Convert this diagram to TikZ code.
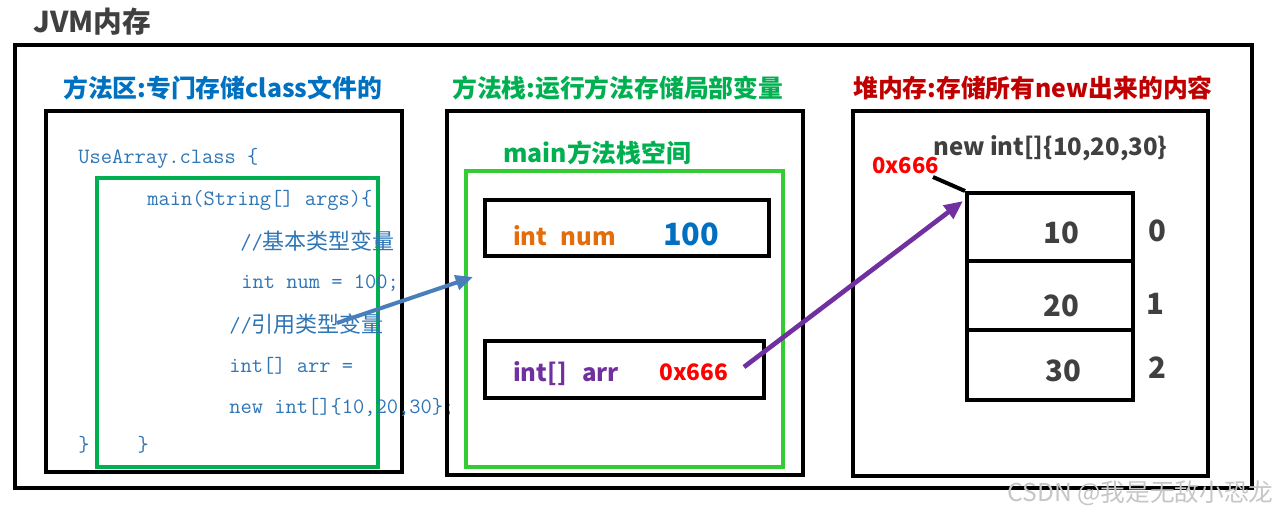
\documentclass[tikz,border=0pt]{standalone}
\usepackage{fontspec}
\setmainfont{Noto Sans CJK SC}
\newfontfamily\codecjk{Noto Sans CJK SC}
\usetikzlibrary{arrows.meta,fit}
\definecolor{titlegray}{HTML}{404040}
\definecolor{secblue}{HTML}{0070C0}
\definecolor{secgreen}{HTML}{00B050}
\definecolor{brightgreen}{HTML}{33CC33}
\definecolor{secred}{HTML}{C00000}
\definecolor{codeblue}{HTML}{2E75B6}
\definecolor{orangetxt}{HTML}{E46C0A}
\definecolor{purpletxt}{HTML}{7030A0}
\definecolor{redtxt}{HTML}{FF0000}
\definecolor{arrowblue}{HTML}{4A7EBB}
\newcommand{\cz}[1]{{\codecjk\fontsize{16.5pt}{18pt}\selectfont #1}}
\begin{document}
\begin{tikzpicture}[x=0.75pt,y=-0.75pt,
  blackbox/.style={draw=black,line width=3pt,inner sep=0pt},
  greenbox/.style={line width=2.4pt,inner sep=0pt},
  sectitle/.style={anchor=west,inner sep=0pt,font=\fontsize{18.6pt}{22pt}\selectfont\bfseries},
  codeline/.style={anchor=west,inner sep=0pt,text=codeblue,font=\ttfamily\fontsize{16.4pt}{19pt}\selectfont},
  cellnum/.style={inner sep=0pt,text=titlegray,font=\fontsize{22pt}{26pt}\selectfont\bfseries},
  vartxt/.style={anchor=west,inner sep=0pt,font=\fontsize{18pt}{22pt}\selectfont\bfseries}
]
\useasboundingbox (0,0) rectangle (1275,517);

% title
\node[anchor=west,inner sep=0pt,text=titlegray,font=\fontsize{21.5pt}{25pt}\selectfont\bfseries] (jvm) at (33,22) {JVM内存};

% outer box
\node[blackbox,fit={(15,45)(1252,488)}] (outer) {};

% left region
\node[sectitle,text=secblue] (lt) at (63,88) {方法区:专门存储class文件的};
\node[blackbox,fit={(46,111)(402,472)}] (left) {};
\node[greenbox,draw=secgreen,fit={(97,178)(378,467)}] (lgreen) {};
\node[codeline] (c1) at (78,158) {UseArray.class \{};
\node[codeline] (c2) at (147,200) {main(String[] args)\{};
\node[codeline] (c3) at (240,241) {//\cz{基本类型变量}};
\node[codeline] (c4) at (241,283) {int num = 100;};
\node[codeline] (c5) at (229,324) {//\cz{引用类型变量}};
\node[codeline] (c6) at (229,366) {int[] arr =};
\node[codeline] (c7) at (229,407) {new int[]\{10,20,30\};};
\node[codeline] (c8) at (78,445) {\}\hspace{2.2em}\}};

% middle region
\node[sectitle,text=secgreen] (mt) at (452,88) {方法栈:运行方法存储局部变量};
\node[blackbox,fit={(447,111)(803,475)}] (mid) {};
\node[sectitle,text=secgreen] (mmain) at (503,153) {main方法栈空间};
\node[greenbox,draw=brightgreen,fit={(466,171)(783,467)}] (mgreen) {};
\node[blackbox,fit={(485,200)(769,256)}] (numbox) {};
\node[vartxt,text=orangetxt] (numname) at (513,236) {int\hspace{0.55em}num};
\node[anchor=west,inner sep=0pt,text=secblue,font=\fontsize{23pt}{27pt}\selectfont\bfseries] (numval) at (663,234) {100};
\node[blackbox,fit={(485,341)(764,398)}] (arrbox) {};
\node[vartxt,text=purpletxt] (arrname) at (513,374) {int[]\hspace{0.65em}arr};
\node[vartxt,text=redtxt,font=\fontsize{17pt}{21pt}\selectfont\bfseries] (arrval) at (659,372) {0x666};

% right region
\node[sectitle,text=secred] (rt) at (853,88) {堆内存:存储所有new出来的内容};
\node[blackbox,fit={(853,111)(1208,476)}] (right) {};
\node[anchor=west,inner sep=0pt,text=titlegray,font=\fontsize{18pt}{21pt}\selectfont\bfseries] (newexpr) at (933,148) {new int[]\{10,20,30\}};
\node[anchor=west,inner sep=0pt,text=redtxt,font=\fontsize{16.5pt}{20pt}\selectfont\bfseries] (addr) at (872,166) {0x666};
\node[blackbox,fit={(967,193)(1133,261)}] (cell0) {};
\node[blackbox,fit={(967,261)(1133,330)}] (cell1) {};
\node[blackbox,fit={(967,330)(1133,400)}] (cell2) {};
\node[cellnum] (v0) at (1061,233) {10};
\node[cellnum] (v1) at (1061,306) {20};
\node[cellnum] (v2) at (1063,371) {30};
\node[cellnum] (i0) at (1157,231) {0};
\node[cellnum] (i1) at (1155,304) {1};
\node[cellnum] (i2) at (1157,368) {2};

% connectors
\coordinate (tagstart) at (933,177);
\draw[line width=3pt] (tagstart) -- (cell0.north west);

\coordinate (bluestart) at (337,323);
\coordinate (blueend) at (473,277);
\draw[draw=arrowblue,line width=3pt,-{Triangle[length=13pt,width=11pt]}] (bluestart) -- (blueend);

\coordinate (purplestart) at (744,367);
\coordinate (purpleend) at (963,201);
\draw[draw=purpletxt,line width=3.5pt,-{Triangle[length=14pt,width=12pt]}] (purplestart) -- (purpleend);

% watermark
\node[anchor=west,inner sep=0pt,text=gray!45,font=\fontsize{18.5pt}{21pt}\selectfont] (wm) at (1007,493) {CSDN @我是无敌小恐龙};
\end{tikzpicture}
\end{document}
